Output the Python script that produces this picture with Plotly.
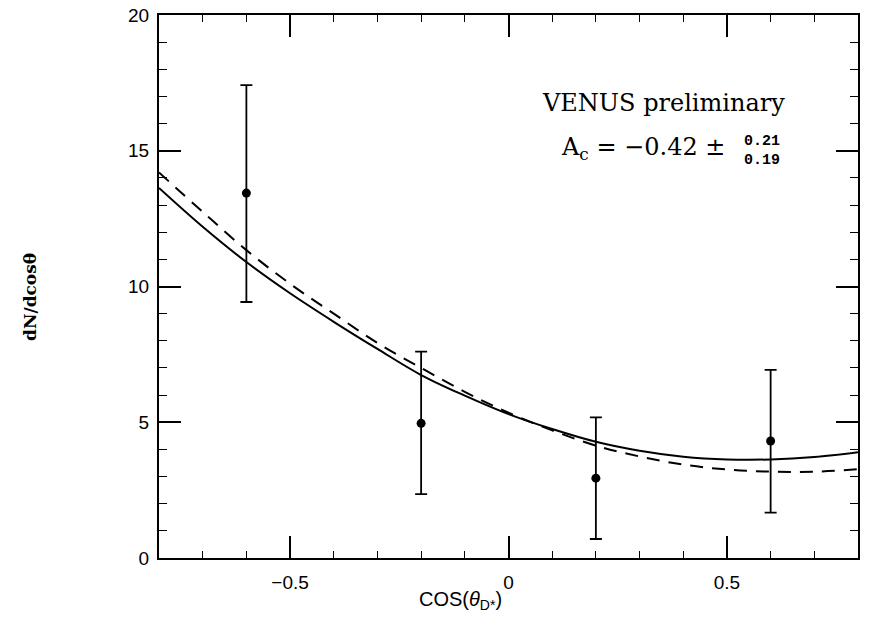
import plotly.graph_objects as go

# data points with asymmetric errors
pt_x = [-0.6, -0.2, 0.2, 0.6]
pt_y = [13.44, 4.96, 2.94, 4.31]
err_up = [3.98, 2.64, 2.24, 2.62]
err_dn = [4.01, 2.61, 2.24, 2.64]

# curves
curve_x = [-0.8, -0.7, -0.6, -0.5, -0.4, -0.3, -0.2, -0.1, 0.0, 0.1, 0.2, 0.3, 0.4, 0.5, 0.6, 0.7, 0.8]
solid_y = [13.63, 12.2, 10.9, 9.75, 8.7, 7.7, 6.74, 5.98, 5.3, 4.75, 4.28, 3.95, 3.73, 3.63, 3.63, 3.72, 3.9]
dashed_y = [14.2, 12.75, 11.34, 10.1, 9.0, 7.92, 7.0, 6.12, 5.35, 4.7, 4.14, 3.74, 3.44, 3.26, 3.18, 3.18, 3.27]

x_tickvals = [-0.5, 0, 0.5]
x_ticktext = ["\u22120.5", "0", "0.5"]
y_tickvals = [0, 5, 10, 15, 20]
y_ticktext = ["0", "5", "10", "15", "20"]

fig = go.Figure()
fig.add_trace(go.Scatter(x=curve_x, y=solid_y, mode="lines", line=dict(color="black", width=2, shape="spline"),
                         showlegend=False, hoverinfo="skip"))
fig.add_trace(go.Scatter(x=curve_x, y=dashed_y, mode="lines",
                         line=dict(color="black", width=2, dash="13px,9px", shape="spline"),
                         showlegend=False, hoverinfo="skip"))
fig.add_trace(go.Scatter(x=pt_x, y=pt_y, mode="markers",
                         marker=dict(color="black", size=9, symbol="circle"),
                         error_y=dict(type="data", symmetric=False, array=err_up, arrayminus=err_dn,
                                      color="black", thickness=1.8, width=6),
                         showlegend=False))

tickfont = dict(family="Liberation Sans, Arial, sans-serif", size=19, color="black")
fig.update_xaxes(range=[-0.8, 0.8], showgrid=False, zeroline=False, showline=True, linecolor="black",
                 linewidth=2, mirror="ticks", ticks="inside", ticklen=22, tickwidth=1.6, tickcolor="black",
                 tickvals=x_tickvals, ticktext=x_ticktext, tickfont=tickfont, ticklabelstandoff=6,
                 automargin=False,
                 minor=dict(dtick=0.1, tick0=0, ticks="inside", ticklen=7, tickwidth=1.4, tickcolor="black"))
fig.update_yaxes(range=[0, 20], showgrid=False, zeroline=False, showline=True, linecolor="black",
                 linewidth=2, mirror="ticks", ticks="inside", ticklen=22, tickwidth=1.6, tickcolor="black",
                 tickvals=y_tickvals, ticktext=y_ticktext, tickfont=tickfont, ticklabelstandoff=4,
                 automargin=False,
                 minor=dict(dtick=1, tick0=0, ticks="inside", ticklen=8, tickwidth=1.4, tickcolor="black"))

serif = "DejaVu Serif, serif"
mono = "Liberation Mono, monospace"
fig.update_layout(
    width=877, height=626, plot_bgcolor="white", paper_bgcolor="white",
    margin=dict(l=159, r=19, t=15, b=68, autoexpand=False),
    annotations=[
        dict(text="VENUS preliminary", xref="paper", yref="paper", x=(787 - 159) / 699, y=1 - (103 - 15) / 543,
             xanchor="right", yanchor="middle", showarrow=False,
             font=dict(family=serif, size=24, color="black")),
        dict(text="A<sub>c</sub> = \u22120.42 \u00b1", xref="paper", yref="paper",
             x=(727 - 159) / 699, y=1 - (148 - 15) / 543, xanchor="right", yanchor="middle", showarrow=False,
             font=dict(family=serif, size=24, color="black")),
        dict(text="<b>0.21</b>", xref="paper", yref="paper", x=(742 - 159) / 699, y=1 - (142 - 15) / 543,
             xanchor="left", yanchor="middle", showarrow=False,
             font=dict(family=mono, size=15, color="black")),
        dict(text="<b>0.19</b>", xref="paper", yref="paper", x=(742 - 159) / 699, y=1 - (160 - 15) / 543,
             xanchor="left", yanchor="middle", showarrow=False,
             font=dict(family=mono, size=15, color="black")),
        dict(text="COS(<i>\u03b8</i><sub>D*</sub>)", xref="paper", yref="paper",
             x=(460 - 159) / 699, y=1 - (600 - 15) / 543, xanchor="center", yanchor="middle", showarrow=False,
             font=dict(family="Liberation Sans, Arial, sans-serif", size=20, color="black")),
        dict(text="<b>dN/dcos\u03b8</b>", xref="paper", yref="paper", x=(30 - 159) / 699,
             y=1 - (297 - 15) / 543, xanchor="center", yanchor="middle", showarrow=False, textangle=-90,
             font=dict(family=serif, size=17, color="black")),
    ],
)

fig.write_html("out.html", config={"displayModeBar": False},
               post_script="document.body.style.margin='0';document.body.style.padding='0';")
